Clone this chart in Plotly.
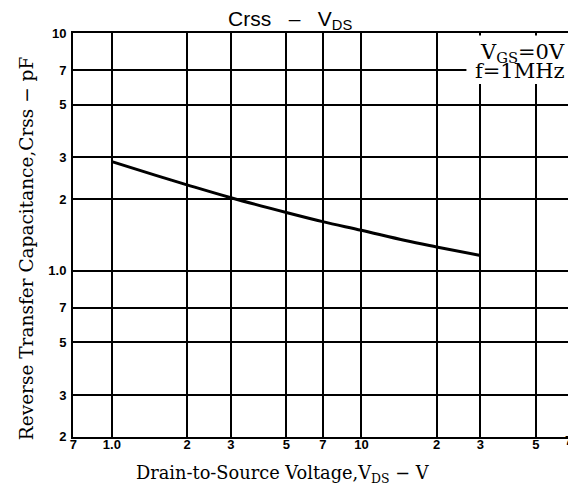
import plotly.graph_objects as go

# Data
vds = [1.0, 1.5, 2, 3, 5, 7, 10, 15, 20, 30]
crss = [2.88, 2.52, 2.30, 2.03, 1.76, 1.61, 1.48, 1.34, 1.26, 1.16]

x_tickvals = [0.7, 1, 2, 3, 5, 7, 10, 20, 30, 50]
x_ticktext = ["7", "1.0", "2", "3", "5", "7", "10", "2", "3", "5"]
x_end_tickvals = [70]
x_end_ticktext = ["7"]
y_tickvals = [0.2, 0.3, 0.5, 0.7, 1, 2, 3, 5, 7, 10]
y_ticktext = ["2", "3", "5", "7", "1.0", "2", "3", "5", "7", "10"]

W, H = 576, 493
L, R, T, B = 65, 8, 25, 64
pw, ph = W - L - R, H - T - B
XRANGE = [-0.1559, 1.852]

def px(xpix):
    return (xpix - L) / pw

def py(ypix):
    return (H - B - ypix) / ph

fig = go.Figure()
fig.add_trace(go.Scatter(x=vds, y=crss, mode="lines",
                         line=dict(color="black", width=3, shape="spline"),
                         showlegend=False, hoverinfo="skip"))
# invisible helper trace so the second x axis (end label) is rendered
fig.add_trace(go.Scatter(x=x_end_tickvals, y=[1], xaxis="x2", yaxis="y", mode="markers",
                         marker=dict(opacity=0), showlegend=False, hoverinfo="skip"))

tickfont = dict(family="Liberation Sans, Arial, sans-serif", size=13, color="black", weight="bold")
fig.update_layout(
    xaxis=dict(type="log", range=XRANGE,
               tickmode="array", tickvals=x_tickvals + x_end_tickvals,
               ticktext=x_ticktext + [""], tickfont=tickfont,
               showgrid=True, gridcolor="black", gridwidth=2,
               showline=True, linecolor="black", linewidth=2, mirror=True,
               ticks="", zeroline=False, ticklabelstandoff=-6,
               ticklabeloverflow="allow"),
    xaxis2=dict(type="log", range=XRANGE, overlaying="x", anchor="y", side="bottom",
                tickmode="array", tickvals=x_end_tickvals, ticktext=x_end_ticktext,
                tickfont=tickfont, showgrid=False, showline=False, zeroline=False,
                ticks="", ticklabelstandoff=-6, ticklabeloverflow="allow",
                ticklabelposition="outside left"),
    yaxis=dict(type="log", range=[-0.6998, 1.0008],
               tickvals=y_tickvals, ticktext=y_ticktext, tickfont=tickfont,
               showgrid=True, gridcolor="black", gridwidth=2,
               showline=True, linecolor="black", linewidth=2, mirror=True,
               ticks="", zeroline=False, ticklabelstandoff=2),
)

serif = "DejaVu Serif, Liberation Serif, serif"
fig.add_shape(type="rect", xref="paper", yref="paper",
              x0=px(460), x1=0.995, y0=py(76), y1=0.994,
              fillcolor="white", line=dict(width=0), layer="above")

annos = [
    dict(text="Crss   \u2013   V<sub>DS</sub>", x=px(283), y=py(12), xanchor="center", yanchor="middle",
         font=dict(family="Liberation Sans, Arial, sans-serif", size=21, color="black")),
    dict(text="V<sub>GS</sub>=0V", x=px(561), y=py(45), xanchor="right", yanchor="middle",
         font=dict(family=serif, size=21, color="black")),
    dict(text="f=1MHz", x=px(561), y=py(63), xanchor="right", yanchor="middle",
         font=dict(family=serif, size=21, color="black")),
    dict(text="Drain-to-Source Voltage,V<sub>DS</sub> \u2212 V", x=px(276), y=py(466),
         xanchor="center", yanchor="middle", font=dict(family=serif, size=17.8, color="black")),
    dict(text="Reverse Transfer Capacitance,Crss \u2212 pF", x=px(18), y=py(240), textangle=-90,
         xanchor="center", yanchor="middle", font=dict(family=serif, size=18.5, color="black")),
]
for a in annos:
    fig.add_annotation(xref="paper", yref="paper", showarrow=False, **a)

fig.add_shape(type="line", xref="paper", yref="paper",
              x0=px(0), x1=px(576), y0=py(489), y1=py(489),
              line=dict(color="black", width=1.5))

fig.update_layout(width=W, height=H, margin=dict(l=L, r=R, t=T, b=B),
                  paper_bgcolor="white", plot_bgcolor="white")
fig.write_html("out.html")
